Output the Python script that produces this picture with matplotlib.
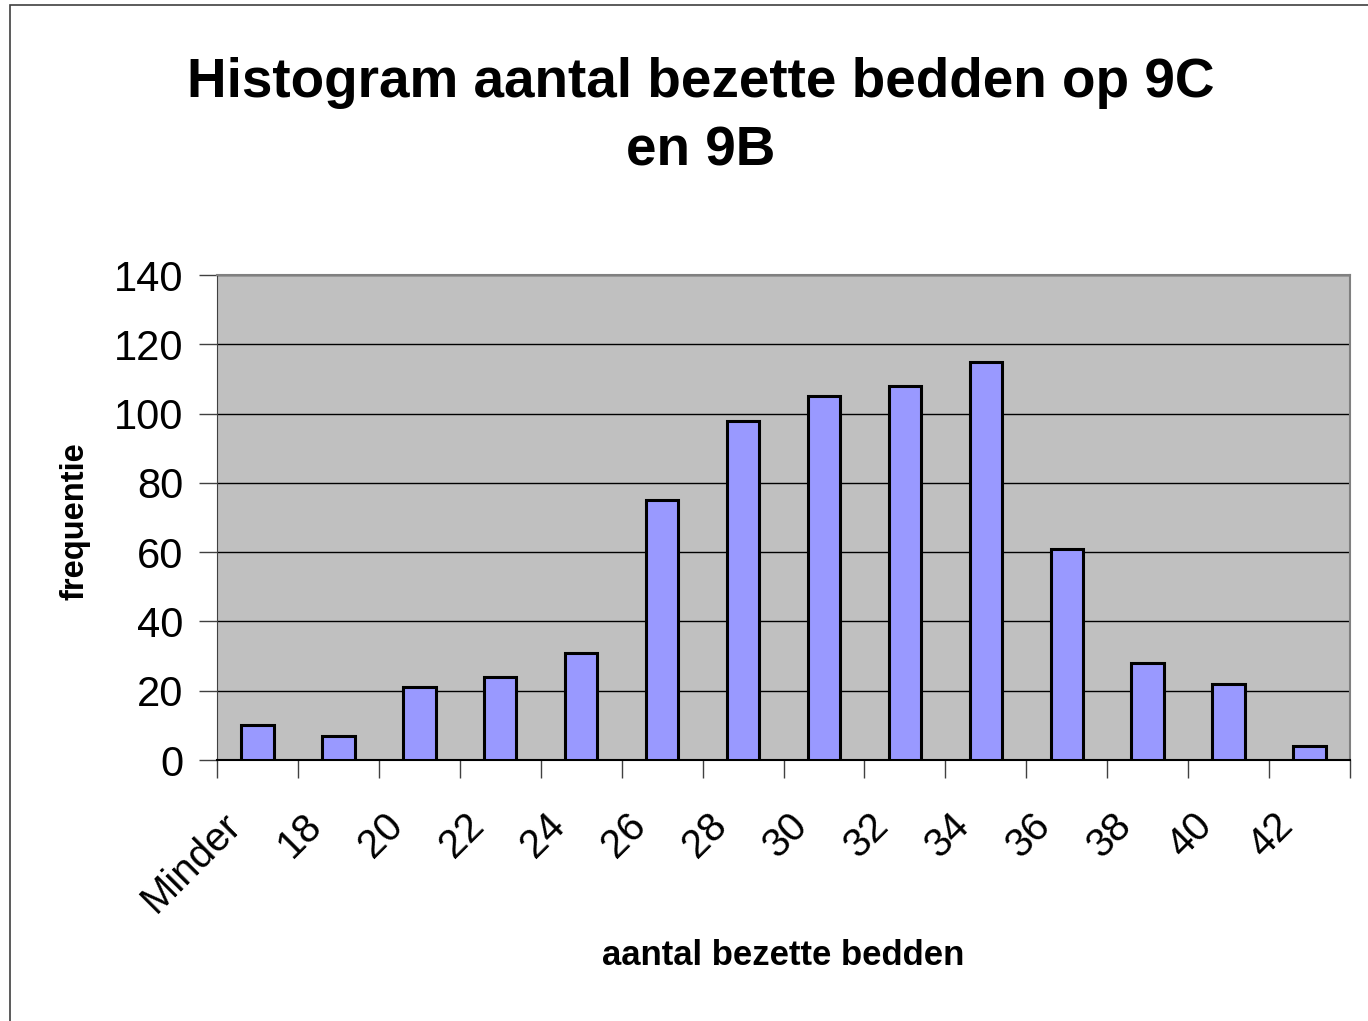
import numpy as np
import matplotlib

matplotlib.use("Agg")
import matplotlib.pyplot as plt
from matplotlib.patches import Rectangle
from matplotlib.transforms import ScaledTranslation

# Histogram data
categories = ["Minder", "18", "20", "22", "24", "26", "28", "30", "32", "34", "36", "38", "40", "42"]
frequencies = [10, 7, 21, 24, 31, 75, 98, 105, 108, 115, 61, 28, 22, 4]

plt.rcParams["font.family"] = ["Liberation Sans", "DejaVu Sans"]

fig = plt.figure(figsize=(13.68, 10.21), dpi=100)
W, H = 1368, 1021

# outer chart border (only top and left edges are inside the picture)
fig.patches.append(
    Rectangle((10 / W, -0.1), 1.2, (H - 5) / H + 0.1, transform=fig.transFigure,
              fill=False, edgecolor="#404040", linewidth=1.2)
)

ax = fig.add_axes([217 / W, 1 - 760 / H, (1350 - 217) / W, (760 - 275) / H])
ax.set_facecolor("#c0c0c0")

x = np.arange(len(categories))
ax.bar(x, frequencies, width=0.4, color="#9999ff", edgecolor="black", linewidth=2.2, zorder=3)

ax.set_xlim(-0.5, len(categories) - 0.5)
ax.set_ylim(0, 140)
ax.set_yticks(np.arange(0, 141, 20))
ax.tick_params(axis="y", labelsize=30, length=13, width=1, color="#404040", pad=11)

# category ticks sit between the bars, labels at the bar centres
ax.set_xticks(np.arange(-0.5, len(categories), 1.0))
ax.set_xticklabels([])
ax.set_xticks(x, minor=True)
ax.set_xticklabels(categories, minor=True, rotation=45, ha="right", va="top",
                   rotation_mode="anchor", fontsize=29)
ax.tick_params(axis="x", which="major", length=13, width=1, color="#404040")
ax.tick_params(axis="x", which="minor", length=0, pad=33)
shift = ScaledTranslation(-0.36, 0, fig.dpi_scale_trans)
for lbl in ax.get_xticklabels(minor=True):
    lbl.set_transform(lbl.get_transform() + shift)

ax.grid(True, axis="y", color="black", linewidth=1, zorder=1)

for side in ["top", "right"]:
    ax.spines[side].set_color("#808080")
    ax.spines[side].set_linewidth(1.5)
ax.spines["left"].set_color("#404040")
ax.spines["bottom"].set_color("black")
ax.spines["bottom"].set_linewidth(1.5)

fig.text(701 / W, 1 - 97 / H, "Histogram aantal bezette bedden op 9C",
         ha="center", va="baseline", fontsize=39.5, fontweight="bold")
fig.text(701 / W, 1 - 165 / H, "en 9B",
         ha="center", va="baseline", fontsize=39.5, fontweight="bold")

fig.text(783 / W, 1 - 955 / H, "aantal bezette bedden", ha="center", va="center",
         fontsize=25, fontweight="bold")
fig.text(75 / W, 1 - 521 / H, "frequentie", ha="center", va="center", rotation=90,
         fontsize=23.5, fontweight="bold")

fig.savefig("out.png", dpi=100)
